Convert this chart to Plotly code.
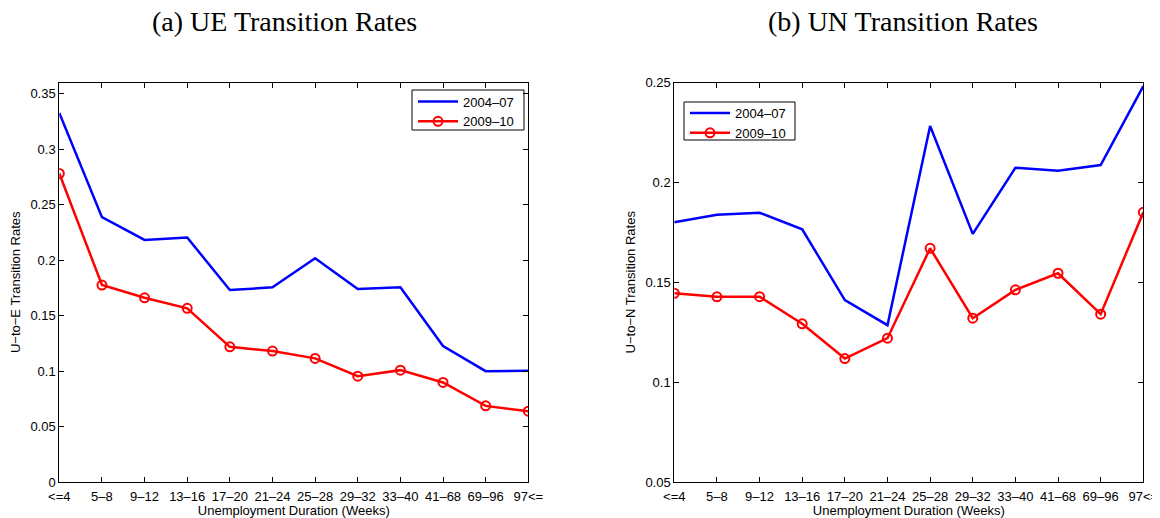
import plotly.graph_objects as go

categories = ["<=4", "5–8", "9–12", "13–16", "17–20", "21–24", "25–28",
              "29–32", "33–40", "41–68", "69–96", "97<="]
series_names = ["2004–07", "2009–10"]

ue_2004_07 = [0.3325, 0.2386, 0.2181, 0.2203, 0.1730, 0.1754, 0.2016,
              0.1739, 0.1754, 0.1225, 0.0999, 0.1002]
ue_2009_10 = [0.2780, 0.1775, 0.1660, 0.1565, 0.1218, 0.1180, 0.1114,
              0.0954, 0.1008, 0.0897, 0.0686, 0.0638]

un_2004_07 = [0.1800, 0.1838, 0.1848, 0.1765, 0.1411, 0.1285, 0.2282,
              0.1742, 0.2073, 0.2058, 0.2087, 0.2482]
un_2009_10 = [0.1445, 0.1427, 0.1428, 0.1292, 0.1118, 0.1220, 0.1670,
              0.1320, 0.1462, 0.1545, 0.1340, 0.1850]

panel_titles = ["(a) UE Transition Rates", "(b) UN Transition Rates"]
y_titles = ["U−to−E Transition Rates", "U−to−N Transition Rates"]
x_title = "Unemployment Duration (Weeks)"

ue_ticks = [0, 0.05, 0.1, 0.15, 0.2, 0.25, 0.3, 0.35]
ue_ticktext = ["0", "0.05", "0.1", "0.15", "0.2", "0.25", "0.3", "0.35"]
un_ticks = [0.05, 0.1, 0.15, 0.2, 0.25]
un_ticktext = ["0.05", "0.1", "0.15", "0.2", "0.25"]

# page body has an 8px margin: the figure starts at (8, 8) in the window
OFF = 8
W, H = 1160 - OFF, 518 - OFF
xpos = list(range(len(categories)))

fig = go.Figure()

blue = "#0000FF"
red = "#FF0000"

def add_pair(xa, ya, legend, b, r):
    fig.add_trace(go.Scatter(x=xpos, y=b, mode="lines", name=series_names[0],
                             line=dict(color=blue, width=2.5),
                             xaxis=xa, yaxis=ya, legend=legend))
    fig.add_trace(go.Scatter(x=xpos, y=r, mode="lines+markers", name=series_names[1],
                             line=dict(color=red, width=2.5),
                             marker=dict(symbol="circle-open", size=9, color=red,
                                         line=dict(width=2, color=red)),
                             xaxis=xa, yaxis=ya, legend=legend))

add_pair("x", "y", "legend", ue_2004_07, ue_2009_10)
add_pair("x2", "y2", "legend2", un_2004_07, un_2009_10)

tick_font = dict(family="Liberation Sans, Arial, sans-serif", size=13, color="black")
leg_font = dict(family="Liberation Sans, Arial, sans-serif", size=13, color="black")

def xaxis_cfg(domain, anchor):
    return dict(domain=domain, anchor=anchor, range=[0, 11],
                tickmode="array", tickvals=xpos, ticktext=categories,
                ticks="inside", ticklen=5, tickcolor="black",
                showline=True, linecolor="black", linewidth=1, mirror="ticks",
                showgrid=False, zeroline=False, tickfont=tick_font,
                ticklabelstandoff=2, ticklabeloverflow="allow",
                title=dict(text=x_title, font=tick_font, standoff=9),
                automargin=False, fixedrange=True)

def yaxis_cfg(domain, anchor, rng, tv, tt, title):
    return dict(domain=domain, anchor=anchor, range=rng,
                tickmode="array", tickvals=tv, ticktext=tt,
                ticks="inside", ticklen=5, tickcolor="black",
                showline=True, linecolor="black", linewidth=1, mirror="ticks",
                showgrid=False, zeroline=False, tickfont=tick_font,
                ticklabeloverflow="allow",
                title=dict(text=title, font=tick_font, standoff=6),
                automargin=False, fixedrange=True)

def px(x):
    return (x - OFF) / W

def py(y):
    return (H - (y - OFF)) / H

xd1 = [px(59.3), px(528.3)]
xd2 = [px(674.3), px(1143.3)]
yd = [py(482), py(82.5)]

title_font = dict(family="Liberation Serif, serif", size=28, color="black")

legend_boxes = [(412, 90, 524, 130), (684, 102, 795, 140)]

shapes = [dict(type="rect", xref="paper", yref="paper",
               x0=px(x0), x1=px(x1), y0=py(y1), y1=py(y0),
               line=dict(color="black", width=1), fillcolor="rgba(0,0,0,0)",
               layer="above")
          for (x0, y0, x1, y1) in legend_boxes]

fig.update_layout(
    width=W, height=H,
    margin=dict(l=0, r=0, t=0, b=0),
    paper_bgcolor="white", plot_bgcolor="white",
    xaxis=xaxis_cfg(xd1, "y"),
    yaxis=yaxis_cfg(yd, "x", [0, 0.36], ue_ticks, ue_ticktext, y_titles[0]),
    xaxis2=xaxis_cfg(xd2, "y2"),
    yaxis2=yaxis_cfg(yd, "x2", [0.05, 0.25], un_ticks, un_ticktext, y_titles[1]),
    legend=dict(x=px(413), y=py(86.5), xanchor="left", yanchor="top",
                bgcolor="rgba(0,0,0,0)", borderwidth=0,
                font=leg_font, tracegroupgap=0, itemwidth=40),
    legend2=dict(x=px(685), y=py(98), xanchor="left", yanchor="top",
                 bgcolor="rgba(0,0,0,0)", borderwidth=0,
                 font=leg_font, tracegroupgap=0, itemwidth=40),
    showlegend=True,
    shapes=shapes,
    annotations=[
        dict(text=panel_titles[0], x=px(284), y=py(21), xref="paper", yref="paper",
             showarrow=False, xanchor="center", yanchor="middle", font=title_font),
        dict(text=panel_titles[1], x=px(903), y=py(21), xref="paper", yref="paper",
             showarrow=False, xanchor="center", yanchor="middle", font=title_font),
    ],
)

fig.write_html("out.html")
